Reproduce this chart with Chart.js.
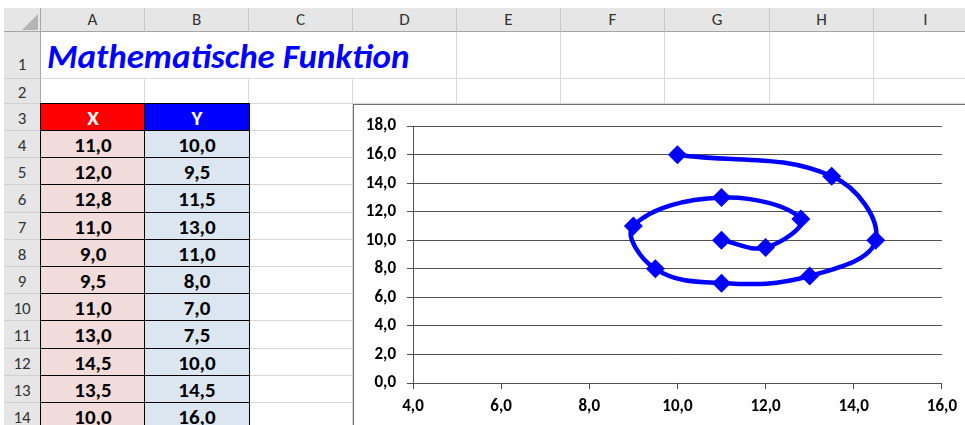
<!DOCTYPE html>
<html>
<head>
<meta charset="utf-8">
<script src="https://cdn.jsdelivr.net/npm/chart.js@4.4.1/dist/chart.umd.min.js"></script>
<style>
  body { margin: 0; width: 965px; height: 425px; overflow: hidden; position: relative; background: #fff;
         font-family: Carlito, Calibri, Lato, sans-serif; }
  .c { position: absolute; box-sizing: border-box; display: flex; align-items: center; justify-content: center; }
  .hd { background: #e6e6e6; color: #333; font-size: 17px; }
</style>
</head>
<body>
<div id="sheet"></div>
<div id="chartBox" style="position:absolute;left:353px;top:104px;width:700px;height:400px;border:1px solid #6e6e6e;background:#fff;box-sizing:border-box"></div>
<canvas id="chart" width="611" height="320" style="position:absolute;left:354px;top:105px"></canvas>
<script>
// sheet contents
const title = 'Mathematische Funktion';
const colLetters = ['A', 'B', 'C', 'D', 'E', 'F', 'G', 'H', 'I'];
const xValues = [11.0, 12.0, 12.8, 11.0, 9.0, 9.5, 11.0, 13.0, 14.5, 13.5, 10.0];
const yValues = [10.0, 9.5, 11.5, 13.0, 11.0, 8.0, 7.0, 7.5, 10.0, 14.5, 16.0];
const xTicks = [4, 6, 8, 10, 12, 14, 16];
const yTicks = [0, 2, 4, 6, 8, 10, 12, 14, 16, 18];

const fmt = v => Number(v).toFixed(1).replace('.', ',');

// grid geometry
const colEdges = [41, 145, 249, 353, 457, 561, 665, 770, 874, 978];
const rowEdges = [32, 79, 104, 131];
for (let r = 1; r <= 11; r++) rowEdges.push(Math.round(131 + 27.2 * r));

const sheet = document.getElementById('sheet');
function cell(left, top, w, h, style, text) {
  const d = document.createElement('div');
  d.className = 'c';
  d.style.cssText = `left:${left}px;top:${top}px;width:${w}px;height:${h}px;` + (style || '');
  if (text !== undefined) d.textContent = text;
  sheet.appendChild(d);
  return d;
}

// column header row + corner
cell(4, 8, 37, 24, 'background:#e6e6e6;border-right:1px solid #a6a6a6;border-bottom:1px solid #a6a6a6');
cell(22, 14, 16, 16, 'background:#b4b4b4;clip-path:polygon(100% 0,100% 100%,0 100%)');
colLetters.forEach((l, i) => {
  cell(colEdges[i], 8, colEdges[i + 1] - colEdges[i], 24,
    'border-right:1px solid #c8c8c8;border-bottom:1px solid #a6a6a6', l).classList.add('hd');
});

// rows
for (let r = 1; r <= 14; r++) {
  const top = rowEdges[r - 1], h = rowEdges[r] - top;
  const pad = r === 1 ? 'align-items:flex-end;padding-bottom:3px' : 'padding-top:2px';
  cell(4, top, 37, h, 'border-right:1px solid #a6a6a6;border-bottom:1px solid #d0d0d0;' + pad, String(r)).classList.add('hd');
  for (let c = 0; c < 9; c++) {
    const left = colEdges[c], w = colEdges[c + 1] - left;
    let st = 'border-bottom:1px solid #d9d9d9;';
    if (!(r === 1 && c < 3)) st += 'border-right:1px solid #d9d9d9;';
    cell(left, top, w, h, st);
  }
}

// title
cell(47, 32, 420, 47, 'justify-content:flex-start;align-items:flex-end;padding-bottom:2px;color:#0000ff;font-weight:bold;font-style:italic;font-size:35px;white-space:nowrap', title);

// table header
const bordered = 'border:1px solid #000;font-weight:bold;font-size:21px;padding-top:1px;';
cell(40, 103, 106, 29, bordered + 'background:#ff0000;color:#fff', 'X');
cell(144, 103, 106, 29, bordered + 'background:#0000ff;color:#fff', 'Y');
xValues.forEach((x, i) => {
  const top = rowEdges[3 + i] - 1, h = rowEdges[4 + i] - rowEdges[3 + i] + 1;
  cell(40, top, 106, h, bordered + 'background:#f2dcdb;color:#000', fmt(x));
  cell(144, top, 106, h, bordered + 'background:#dce6f1;color:#000', fmt(yValues[i]));
});

// chart
const tickFont = { family: 'Carlito, Calibri, Lato, sans-serif', size: 17, weight: 'bold' };
const gridColor = '#505050';
new Chart(document.getElementById('chart').getContext('2d'), {
  type: 'scatter',
  data: {
    datasets: [{
      data: xValues.map((x, i) => ({ x: x, y: yValues[i] })),
      showLine: true,
      tension: 0.4,
      borderColor: '#0000ff',
      borderWidth: 4.5,
      backgroundColor: '#0000ff',
      pointStyle: 'rectRot',
      pointRadius: 9.5,
      pointBorderWidth: 0
    }]
  },
  options: {
    responsive: false,
    animation: false,
    events: [],
    layout: { padding: { top: 19, right: 23, left: 0, bottom: 0 } },
    plugins: { legend: { display: false }, tooltip: { enabled: false } },
    scales: {
      x: {
        type: 'linear', min: 4, max: 16,
        afterBuildTicks: s => { s.ticks = xTicks.map(v => ({ value: v })); },
        ticks: { callback: v => fmt(v), color: '#000', font: tickFont, padding: 8, maxRotation: 0 },
        grid: { drawOnChartArea: false, tickLength: 6, color: gridColor },
        border: { color: gridColor },
        afterFit: s => { s.height = 42; }
      },
      y: {
        min: 0, max: 18,
        afterBuildTicks: s => { s.ticks = yTicks.map(v => ({ value: v })); },
        ticks: { callback: v => fmt(v), color: '#000', font: tickFont, padding: 11 },
        grid: { tickLength: 6, color: gridColor },
        border: { color: gridColor },
        afterFit: s => { s.width = 59; }
      }
    }
  }
});
</script>
</body>
</html>
